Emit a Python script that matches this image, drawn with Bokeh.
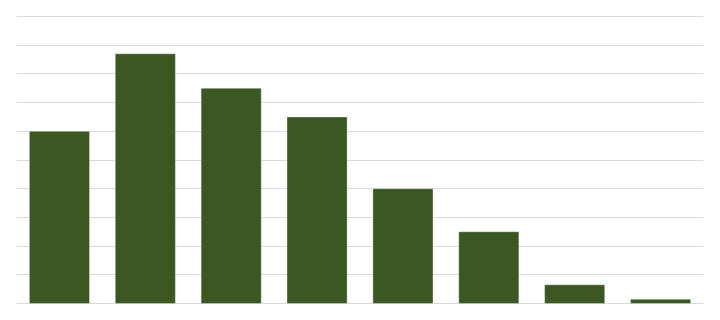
from bokeh.plotting import figure
from bokeh.models import FactorRange, Range1d, SingleIntervalTicker, ColumnDataSource
from bokeh.embed import file_html
from bokeh.resources import INLINE

categories = ["A", "B", "C", "D", "E", "F", "G", "H"]
values = [6.0, 8.7, 7.5, 6.5, 4.0, 2.5, 0.65, 0.15]

source = ColumnDataSource(data=dict(cat=categories, val=values))

p = figure(width=720, height=320, x_range=FactorRange(*categories, range_padding=0),
           y_range=Range1d(-0.035, 10.035), output_backend="svg", toolbar_location=None,
           min_border_left=16, min_border_right=17, min_border_top=15, min_border_bottom=16)

p.ygrid.ticker = SingleIntervalTicker(interval=1)
p.ygrid.grid_line_color = "#D9D9D9"
p.ygrid.grid_line_width = 1

p.vbar(x="cat", top="val", width=0.7, source=source, fill_color="#3B5724",
       line_color="white", line_alpha=0.35, line_width=1)

p.xaxis.visible = False
p.yaxis.visible = False
p.xgrid.grid_line_color = None
p.outline_line_color = None
p.background_fill_color = "white"
p.border_fill_color = "white"

open("out.html", "w").write(file_html(p, INLINE))
